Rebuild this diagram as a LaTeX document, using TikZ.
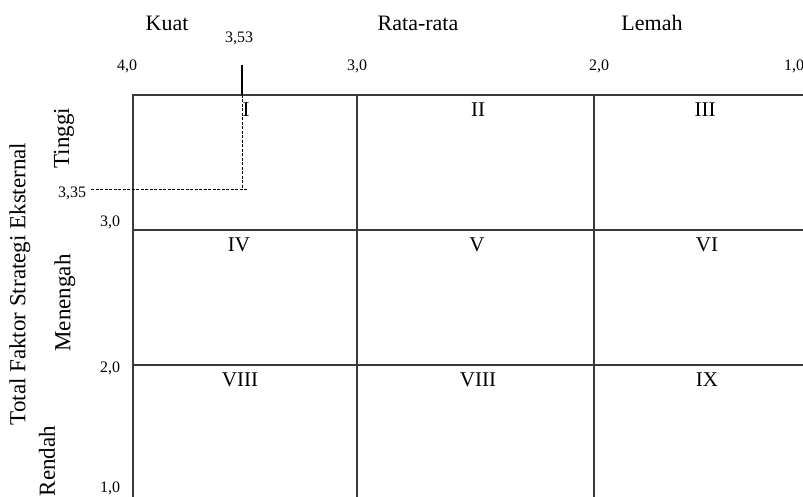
\documentclass[tikz,border=0pt]{standalone}
\usepackage{fontspec}
\setmainfont{Liberation Serif}
\usetikzlibrary{positioning,calc}
\definecolor{ieLine}{HTML}{3A3A3A}
\tikzset{
  gridline/.style={line width=1.4pt, ieLine},
  guide/.style={line width=1pt, black, dash pattern=on 3pt off 1.5pt},
  marker/.style={line width=1.1pt, black},
  headlbl/.style={font=\fontsize{22}{24}\selectfont, inner sep=0pt},
  ticklbl/.style={font=\fontsize{16}{18}\selectfont, inner sep=0pt},
  cellno/.style={font=\fontsize{21}{24}\selectfont, inner sep=0pt},
  sidelbl/.style={headlbl, font=\fontsize{23}{25}\selectfont, rotate=90}
}

\begin{document}
\begin{tikzpicture}[x=1pt,y=1pt]
  \useasboundingbox (0,0) rectangle (803,497);

  % IE matrix grid
  \draw[gridline] (803,402) -- (133,402) -- (133,0);
  \draw[gridline] (357,402) -- (357,0);
  \draw[gridline] (594,402) -- (594,0);
  \draw[gridline] (133,267) -- (803,267);
  \draw[gridline] (133,132) -- (803,132);

  % column heads and ticks
  \node[headlbl] (kuat) at (167,474) {Kuat};
  \node[headlbl] (rata) at (418,474) {Rata-rata};
  \node[headlbl] (lemah) at (652,474) {Lemah};
  \node[ticklbl] (t353) at (239,459) {3,53};
  \node[ticklbl] (t40) at (127,431) {4,0};
  \node[ticklbl] (t30) at (357,431) {3,0};
  \node[ticklbl] (t20) at (599,431) {2,0};
  \node[ticklbl] (t10) at (794,431) {1,0};

  % row heads and ticks
  \node[sidelbl] (ylabel) at (20,213) {Total Faktor Strategi Eksternal};
  \node[sidelbl] (tinggi) at (64,359) {Tinggi};
  \node[sidelbl] (menengah) at (65,194) {Menengah};
  \node[sidelbl] (rendah) at (47,36) {Rendah};
  \node[ticklbl] (v335) at (72,304) {3,35};
  \node[ticklbl] (v30) at (110,275) {3,0};
  \node[ticklbl] (v20) at (110,129) {2,0};
  \node[ticklbl] (v10) at (110,9) {1,0};

  % cell numbers
  \node[cellno] (c1) at (246,387) {I};
  \node[cellno] (c2) at (478,387) {II};
  \node[cellno] (c3) at (705,387) {III};
  \node[cellno] (c4) at (239,252) {IV};
  \node[cellno] (c5) at (477,252) {V};
  \node[cellno] (c6) at (707,252) {VI};
  \node[cellno] (c7) at (240,117) {VIII};
  \node[cellno] (c8) at (478,117) {VIII};
  \node[cellno] (c9) at (707,117) {IX};

  % position of the company
  \coordinate (mtop) at (242,432);
  \coordinate (mgrid) at (242,402);
  \coordinate (mpt) at (242,307);
  \coordinate (mleft) at (91,307);
  \coordinate (mend) at (248,307);
  \draw[marker] (mtop) -- (mgrid);
  \draw[guide] (mgrid) -- (mpt);
  \draw[guide] (mleft) -- (mend);
\end{tikzpicture}
\end{document}
